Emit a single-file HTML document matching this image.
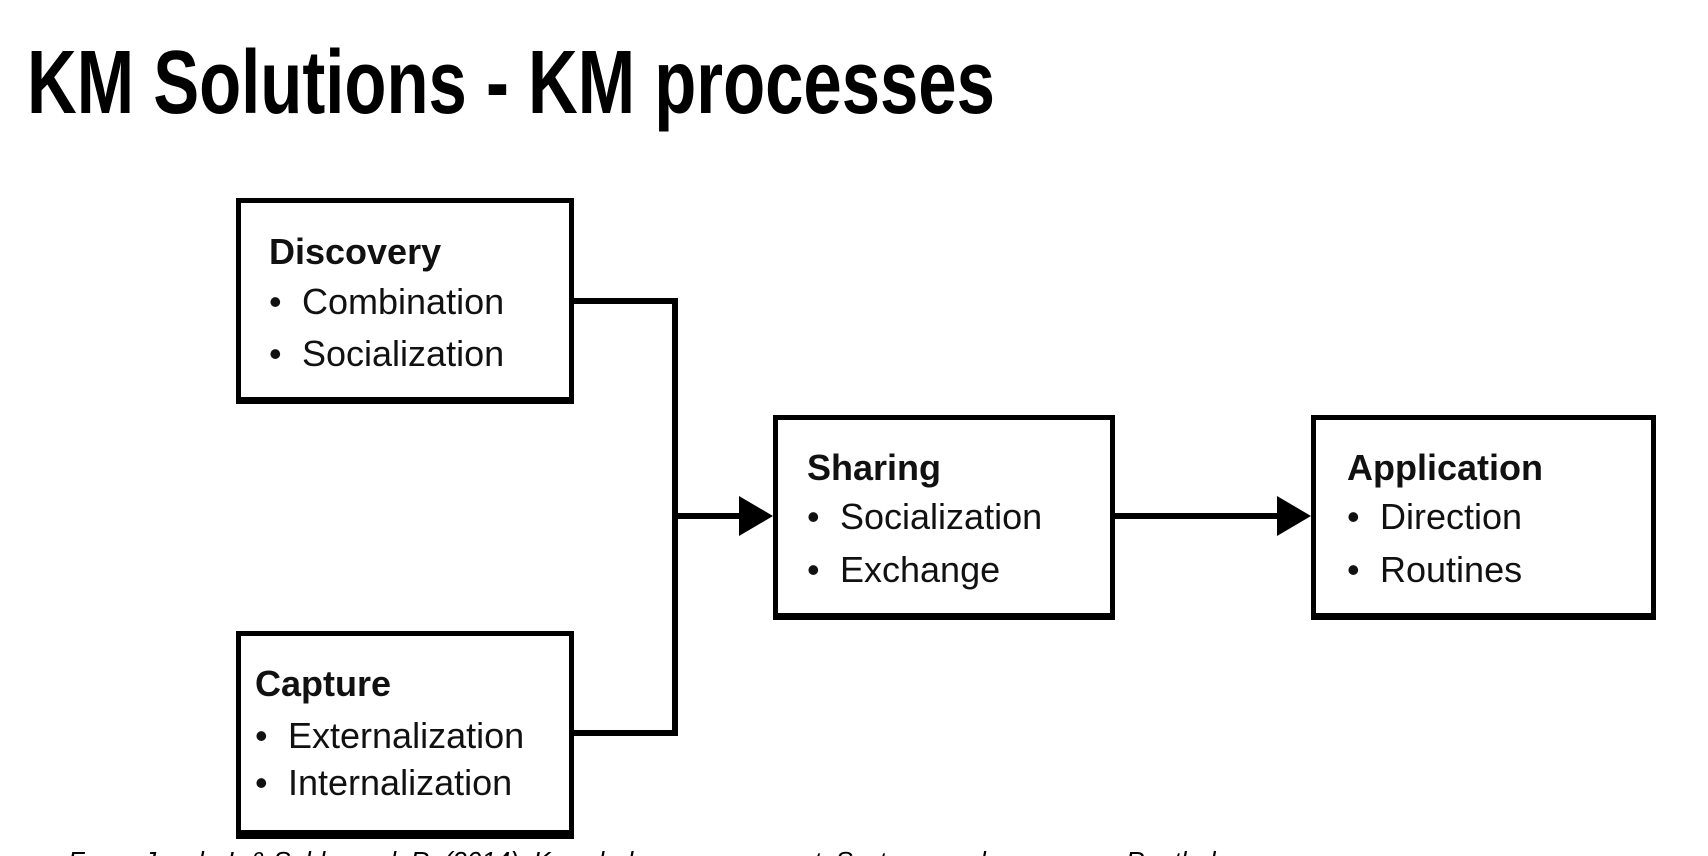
<!DOCTYPE html>
<html><head><meta charset="utf-8"><style>
html,body{margin:0;padding:0;background:#fff;width:1708px;height:856px;overflow:hidden;}
body{position:relative;font-family:"Liberation Sans",Arial,sans-serif;}
.title{position:absolute;left:27px;top:38px;font-size:90px;font-weight:bold;white-space:nowrap;transform:scaleX(0.765);transform-origin:0 0;line-height:1;}
.box{position:absolute;border:5px solid #000;box-sizing:border-box;background:#fff;}
.t{position:absolute;font-size:36px;white-space:nowrap;color:#111;transform:scaleX(1.0);transform-origin:0 50%;line-height:1;}
.h{font-weight:bold;}
.b{display:inline-block;width:33px;}
.foot{position:absolute;left:68px;top:848px;font-size:26px;font-style:italic;white-space:nowrap;line-height:1;}
</style></head><body>
<div class="title">KM Solutions - KM processes</div>
<svg width="1708" height="856" style="position:absolute;left:0;top:0">
<g stroke="#000" stroke-width="6" fill="none">
<polyline points="574,301 675,301 675,733 574,733"/>
<line x1="675" y1="516" x2="745" y2="516"/>
<line x1="1115" y1="516" x2="1282" y2="516"/>
</g>
<polygon points="739,496 773,516 739,536" fill="#000"/>
<polygon points="1277,496 1311,516 1277,536" fill="#000"/>
</svg>
<div class="box" style="left:236px;top:198px;width:338px;height:206px;border-bottom-width:7px"></div>
<div class="box" style="left:773px;top:415px;width:342px;height:205px;border-bottom-width:7px"></div>
<div class="box" style="left:1311px;top:415px;width:345px;height:205px;border-bottom-width:7px"></div>
<div class="box" style="left:236px;top:631px;width:338px;height:208px;border-bottom-width:9px"></div>

<div class="t h" style="left:269px;top:234px">Discovery</div>
<div class="t" style="left:269px;top:284px"><span class="b">•</span>Combination</div>
<div class="t" style="left:269px;top:336px"><span class="b">•</span>Socialization</div>

<div class="t h" style="left:807px;top:450px">Sharing</div>
<div class="t" style="left:807px;top:499px"><span class="b">•</span>Socialization</div>
<div class="t" style="left:807px;top:552px"><span class="b">•</span>Exchange</div>

<div class="t h" style="left:1347px;top:450px">Application</div>
<div class="t" style="left:1347px;top:499px"><span class="b">•</span>Direction</div>
<div class="t" style="left:1347px;top:552px"><span class="b">•</span>Routines</div>

<div class="t h" style="left:255px;top:666px">Capture</div>
<div class="t" style="left:255px;top:718px"><span class="b">•</span>Externalization</div>
<div class="t" style="left:255px;top:765px"><span class="b">•</span>Internalization</div>

<div class="foot">From: Jacob, I. &amp; Sabherwal, R. (2014). Knowledge management: Systems and processes. Routledge.</div>
</body></html>
